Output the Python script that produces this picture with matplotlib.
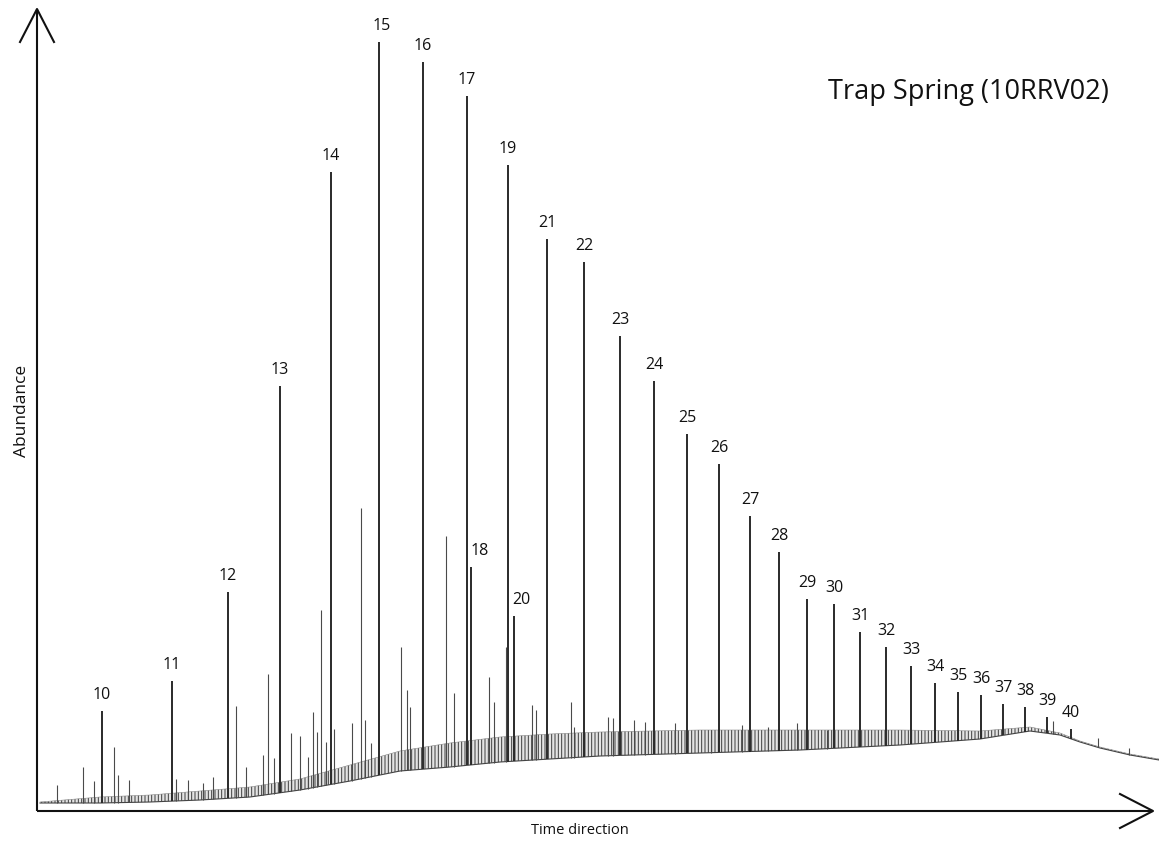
import numpy as np
import matplotlib
matplotlib.use("Agg")
import matplotlib.pyplot as plt

# n-alkane peaks (carbon number), retention position and abundance (arbitrary units)
peak_labels = list(range(10, 41))
peak_time = [65, 135, 191, 243, 294, 342, 386, 430, 434, 471, 477, 510, 547,
             583, 617, 650, 682, 713, 742, 770, 797, 823, 849, 874, 898, 921,
             944, 966, 988, 1010, 1034]
peak_abund = [100, 130, 219, 425, 639, 769, 749, 715, 244, 646, 195, 572, 549,
              475, 430, 377, 347, 295, 259, 212, 207, 179, 164, 145, 128, 119,
              116, 107, 104, 94, 82]

# smaller unlabelled peaks
minor_time = [20, 46, 57, 77, 81, 92, 139, 151, 166, 176, 199, 209, 226, 231,
              237, 254, 263, 271, 276, 280, 284, 289, 297, 315, 324, 328, 334,
              364, 370, 373, 409, 417, 452, 457, 469, 495, 499, 534, 537, 571,
              576, 597, 608, 638, 674, 705, 731, 760, 790, 1016, 1061, 1092]
minor_abund = [26, 44, 30, 64, 36, 31, 32, 31, 28, 34, 105, 44, 56, 137, 53,
               78, 75, 54, 99, 79, 201, 69, 82, 88, 303, 91, 68, 164, 121, 104,
               275, 118, 134, 109, 164, 106, 101, 109, 84, 94, 93, 91, 89, 88,
               81, 86, 84, 88, 81, 90, 73, 63]

# baseline (unresolved hump), lower and upper edge of the noise
base_time = [3, 63, 113, 163, 213, 263, 313, 363, 413, 463, 513, 563, 663, 763,
             863, 943, 993, 1023, 1043, 1063, 1093, 1122]
base_low = [8, 8, 9, 11, 14, 21, 30, 40, 44, 49, 52, 55, 58, 61, 66, 72, 80,
            76, 69, 63, 56, 51]
base_high = [9, 14, 16, 20, 24, 32, 46, 60, 68, 74, 77, 79, 81, 81, 81, 80, 84,
             78, 70, 64, 57, 52]

label_dx = {15: 3, 18: 9, 20: 7}

plt.rcParams['font.family'] = ['Open Sans', 'DejaVu Sans']
plt.rcParams['hatch.linewidth'] = 0.7

fig = plt.figure(figsize=(11.59, 8.43), dpi=100)
ax = fig.add_axes([0, 0, 1, 1])
ax.set_xlim(-37, 1122)
ax.set_ylim(-32, 811)
ax.axis('off')

# noisy baseline
ax.fill_between(base_time, base_low, base_high, facecolor='#e4e4e4',
                edgecolor='#3c3c3c', hatch='|||||', linewidth=0)
ax.plot(base_time, base_low, color='#444444', lw=0.8)
ax.plot(base_time, base_high, color='#888888', lw=0.4)

minor_base = np.interp(minor_time, base_time, base_low)
ax.vlines(minor_time, minor_base, minor_abund, color='#4a4a4a', lw=0.8)

peak_base = np.interp(peak_time, base_time, base_low)
ax.vlines(peak_time, peak_base, peak_abund, color='#2a2a2a', lw=1.4)

for lab, t, a in zip(peak_labels, peak_time, peak_abund):
    ax.text(t + label_dx.get(lab, 0), a + 16, str(lab), ha='center',
            va='center', fontsize=11.5, color='#111111')

# axes drawn as open arrows
ax.plot([0, 0], [0, 802], color='#111111', lw=1.5, solid_capstyle='butt')
ax.plot([-17, 0, 17], [769, 802, 769], color='#111111', lw=1.5)
ax.plot([0, 1116], [0, 0], color='#111111', lw=1.5, solid_capstyle='butt')
ax.plot([1083, 1116, 1083], [17, 0, -17], color='#111111', lw=1.5)

ax.text(-15, 400, 'Abundance', rotation=90, ha='center', va='center',
        fontsize=12.5, color='#111111')
ax.text(543, -19, 'Time direction', ha='center', va='center', fontsize=10.5,
        color='#111111')
ax.text(791, 719, 'Trap Spring (10RRV02)', ha='left', va='center',
        fontsize=19.5, color='#111111')

plt.savefig('out.png', dpi=100)
